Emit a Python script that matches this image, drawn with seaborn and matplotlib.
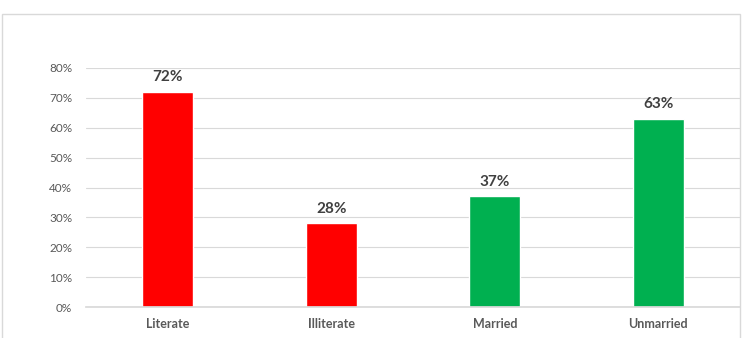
import matplotlib
matplotlib.use("Agg")
import matplotlib.pyplot as plt
import seaborn as sns
import pandas as pd
from matplotlib.patches import Rectangle
from matplotlib.ticker import FuncFormatter

categories = ["Literate", "Illiterate", "Married", "Unmarried"]
values = [72, 28, 37, 63]
colors = ["#FF0000", "#FF0000", "#00B050", "#00B050"]
yticks = [0, 10, 20, 30, 40, 50, 60, 70, 80]

df = pd.DataFrame({"category": categories, "value": values})

sns.set_theme(style="white")
plt.rcParams["font.family"] = ["Lato", "DejaVu Sans"]

fig = plt.figure(figsize=(7.46, 3.38), dpi=100)
ax = fig.add_axes([86 / 746, 1 - 307 / 338, 654 / 746, (307 - 68) / 338])

sns.barplot(data=df, x="category", y="value", hue="category",
            palette=colors, width=0.31, legend=False, ax=ax, saturation=1)

ax.set_ylim(0, 80)
ax.set_yticks(yticks)
ax.yaxis.set_major_formatter(FuncFormatter(lambda v, p: f"{int(v)}%"))
ax.grid(axis="y", color="#D9D9D9", linewidth=0.8)
ax.set_axisbelow(True)
for s in ["top", "right", "left"]:
    ax.spines[s].set_visible(False)
ax.spines["bottom"].set_color("#D9D9D9")
ax.set_xlabel("")
ax.set_ylabel("")
ax.tick_params(axis="y", labelsize=8.5, labelcolor="#595959", length=0, pad=10)
ax.tick_params(axis="x", labelsize=9, labelcolor="#595959", length=0, pad=8)
for lbl in ax.get_xticklabels():
    lbl.set_fontweight("bold")

for i, v in enumerate(values):
    ax.text(i, v + 2.5, f"{v}%", ha="center", va="bottom", fontsize=11,
            fontweight="bold", color="#404040")

fig.patches.append(Rectangle((2 / 746, -0.05), 738 / 746, 1.05 - 14 / 338,
                             transform=fig.transFigure, fill=False,
                             edgecolor="#D9D9D9", linewidth=1))

fig.savefig("out.png", dpi=100, facecolor="white")
